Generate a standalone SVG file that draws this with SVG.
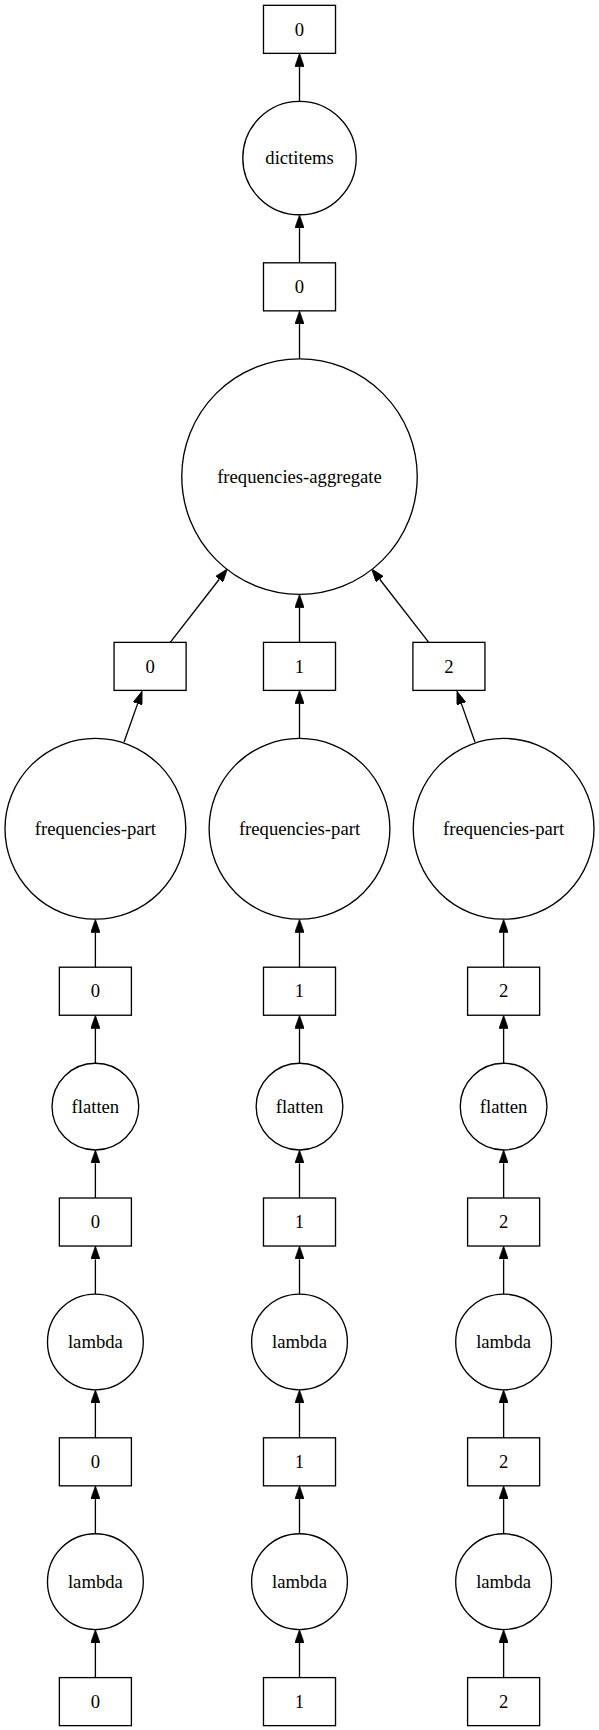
<svg xmlns="http://www.w3.org/2000/svg" width="599" height="1730" viewBox="0 0 599 1730">
<style>
.nd{fill:#fff;stroke:#000;stroke-width:1}
.lb{font-family:"Liberation Serif","Times New Roman",serif;font-size:14px;text-anchor:middle;fill:#000}
.ed{fill:none;stroke:#000;stroke-width:1}
</style>
<defs>
<marker id="ah" viewBox="0 0 10 7" refX="0" refY="3.5" markerWidth="10" markerHeight="7" markerUnits="userSpaceOnUse" orient="auto">
<path d="M0,0 L10,3.5 L0,7 z" fill="#000" stroke="#000" stroke-width="0.5"/>
</marker>
</defs>
<rect width="599" height="1730" fill="#fff"/>
<g transform="scale(1.33408)">
<g id="connectors">
<path class="ed" marker-end="url(#ah)" d="M224.5,76 L224.5,50"/>
<path class="ed" marker-end="url(#ah)" d="M224.5,197 L224.5,171"/>
<path class="ed" marker-end="url(#ah)" d="M224.5,269 L224.5,243"/>
<path class="ed" marker-end="url(#ah)" d="M127.6,481.5 L164.36,434.2"/>
<path class="ed" marker-end="url(#ah)" d="M224.5,481.5 L224.5,455.5"/>
<path class="ed" marker-end="url(#ah)" d="M321.4,481.5 L284.64,434.2"/>
<path class="ed" marker-end="url(#ah)" d="M93,556.2 L103.17,527.43"/>
<path class="ed" marker-end="url(#ah)" d="M224.5,553.5 L224.5,527.5"/>
<path class="ed" marker-end="url(#ah)" d="M356,556.2 L345.83,527.43"/>
<g id="col-edges-0">
<path class="ed" marker-end="url(#ah)" d="M71.5,725 L71.5,699"/>
<path class="ed" marker-end="url(#ah)" d="M71.5,797 L71.5,771"/>
<path class="ed" marker-end="url(#ah)" d="M71.5,898 L71.5,872"/>
<path class="ed" marker-end="url(#ah)" d="M71.5,970 L71.5,944"/>
<path class="ed" marker-end="url(#ah)" d="M71.5,1077.75 L71.5,1051.75"/>
<path class="ed" marker-end="url(#ah)" d="M71.5,1149.75 L71.5,1123.75"/>
<path class="ed" marker-end="url(#ah)" d="M71.5,1257.5 L71.5,1231.5"/>
</g>
<g id="col-edges-1">
<path class="ed" marker-end="url(#ah)" d="M224.5,725 L224.5,699"/>
<path class="ed" marker-end="url(#ah)" d="M224.5,797 L224.5,771"/>
<path class="ed" marker-end="url(#ah)" d="M224.5,898 L224.5,872"/>
<path class="ed" marker-end="url(#ah)" d="M224.5,970 L224.5,944"/>
<path class="ed" marker-end="url(#ah)" d="M224.5,1077.75 L224.5,1051.75"/>
<path class="ed" marker-end="url(#ah)" d="M224.5,1149.75 L224.5,1123.75"/>
<path class="ed" marker-end="url(#ah)" d="M224.5,1257.5 L224.5,1231.5"/>
</g>
<g id="col-edges-2">
<path class="ed" marker-end="url(#ah)" d="M377.5,725 L377.5,699"/>
<path class="ed" marker-end="url(#ah)" d="M377.5,797 L377.5,771"/>
<path class="ed" marker-end="url(#ah)" d="M377.5,898 L377.5,872"/>
<path class="ed" marker-end="url(#ah)" d="M377.5,970 L377.5,944"/>
<path class="ed" marker-end="url(#ah)" d="M377.5,1077.75 L377.5,1051.75"/>
<path class="ed" marker-end="url(#ah)" d="M377.5,1149.75 L377.5,1123.75"/>
<path class="ed" marker-end="url(#ah)" d="M377.5,1257.5 L377.5,1231.5"/>
</g>
</g>
<g id="out-box"><rect class="nd" x="197.5" y="4" width="54" height="36"/><text class="lb" x="224.5" y="26.7">0</text></g>
<g id="dictitems"><circle class="nd" cx="224.5" cy="118.5" r="42.5"/><text class="lb" x="224.5" y="123.2">dictitems</text></g>
<g id="agg-box"><rect class="nd" x="197.5" y="197" width="54" height="36"/><text class="lb" x="224.5" y="219.7">0</text></g>
<g id="freq-aggregate"><circle class="nd" cx="224.5" cy="357.25" r="88.25"/><text class="lb" x="224.5" y="361.95">frequencies-aggregate</text></g>

<g id="part-box-0"><rect class="nd" x="85.5" y="481.5" width="54" height="36"/><text class="lb" x="112.5" y="504.2">0</text></g>
<g id="part-box-1"><rect class="nd" x="197.5" y="481.5" width="54" height="36"/><text class="lb" x="224.5" y="504.2">1</text></g>
<g id="part-box-2"><rect class="nd" x="309.5" y="481.5" width="54" height="36"/><text class="lb" x="336.5" y="504.2">2</text></g>

<g id="freq-part-0"><circle class="nd" cx="71.5" cy="621.25" r="67.75"/><text class="lb" x="71.5" y="625.95">frequencies-part</text></g>
<g id="freq-part-1"><circle class="nd" cx="224.5" cy="621.25" r="67.75"/><text class="lb" x="224.5" y="625.95">frequencies-part</text></g>
<g id="freq-part-2"><circle class="nd" cx="377.5" cy="621.25" r="67.75"/><text class="lb" x="377.5" y="625.95">frequencies-part</text></g>

<g id="flat-box-0"><rect class="nd" x="44.5" y="725" width="54" height="36"/><text class="lb" x="71.5" y="747.7">0</text></g>
<g id="flat-box-1"><rect class="nd" x="197.5" y="725" width="54" height="36"/><text class="lb" x="224.5" y="747.7">1</text></g>
<g id="flat-box-2"><rect class="nd" x="350.5" y="725" width="54" height="36"/><text class="lb" x="377.5" y="747.7">2</text></g>

<g id="flatten-0"><circle class="nd" cx="71.5" cy="829.5" r="32.5"/><text class="lb" x="71.5" y="834.2">flatten</text></g>
<g id="flatten-1"><circle class="nd" cx="224.5" cy="829.5" r="32.5"/><text class="lb" x="224.5" y="834.2">flatten</text></g>
<g id="flatten-2"><circle class="nd" cx="377.5" cy="829.5" r="32.5"/><text class="lb" x="377.5" y="834.2">flatten</text></g>

<g id="lam2-box-0"><rect class="nd" x="44.5" y="898" width="54" height="36"/><text class="lb" x="71.5" y="920.7">0</text></g>
<g id="lam2-box-1"><rect class="nd" x="197.5" y="898" width="54" height="36"/><text class="lb" x="224.5" y="920.7">1</text></g>
<g id="lam2-box-2"><rect class="nd" x="350.5" y="898" width="54" height="36"/><text class="lb" x="377.5" y="920.7">2</text></g>

<g id="lambda2-0"><circle class="nd" cx="71.5" cy="1005.9" r="35.9"/><text class="lb" x="71.5" y="1010.6">lambda</text></g>
<g id="lambda2-1"><circle class="nd" cx="224.5" cy="1005.9" r="35.9"/><text class="lb" x="224.5" y="1010.6">lambda</text></g>
<g id="lambda2-2"><circle class="nd" cx="377.5" cy="1005.9" r="35.9"/><text class="lb" x="377.5" y="1010.6">lambda</text></g>

<g id="lam1-box-0"><rect class="nd" x="44.5" y="1077.75" width="54" height="36"/><text class="lb" x="71.5" y="1100.45">0</text></g>
<g id="lam1-box-1"><rect class="nd" x="197.5" y="1077.75" width="54" height="36"/><text class="lb" x="224.5" y="1100.45">1</text></g>
<g id="lam1-box-2"><rect class="nd" x="350.5" y="1077.75" width="54" height="36"/><text class="lb" x="377.5" y="1100.45">2</text></g>

<g id="lambda1-0"><circle class="nd" cx="71.5" cy="1185.6" r="35.9"/><text class="lb" x="71.5" y="1190.3">lambda</text></g>
<g id="lambda1-1"><circle class="nd" cx="224.5" cy="1185.6" r="35.9"/><text class="lb" x="224.5" y="1190.3">lambda</text></g>
<g id="lambda1-2"><circle class="nd" cx="377.5" cy="1185.6" r="35.9"/><text class="lb" x="377.5" y="1190.3">lambda</text></g>

<g id="src-box-0"><rect class="nd" x="44.5" y="1257.5" width="54" height="36"/><text class="lb" x="71.5" y="1280.2">0</text></g>
<g id="src-box-1"><rect class="nd" x="197.5" y="1257.5" width="54" height="36"/><text class="lb" x="224.5" y="1280.2">1</text></g>
<g id="src-box-2"><rect class="nd" x="350.5" y="1257.5" width="54" height="36"/><text class="lb" x="377.5" y="1280.2">2</text></g>
</g>
</svg>
